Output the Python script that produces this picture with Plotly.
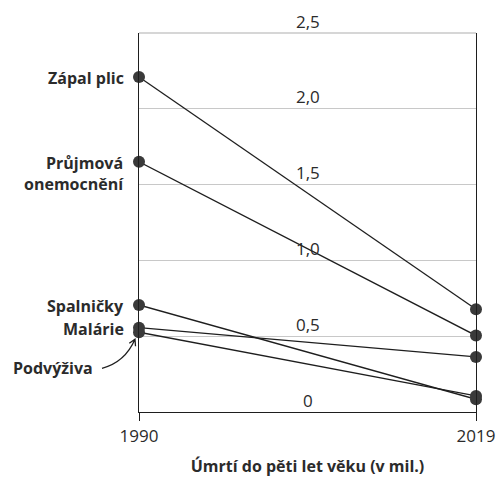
import plotly.graph_objects as go

years = [1990, 2019]
causes = ["Zápal plic", "Průjmová onemocnění", "Spalničky", "Malárie", "Podvýživa"]
deaths_1990 = [2.21, 1.65, 0.706, 0.556, 0.526]
deaths_2019 = [0.678, 0.504, 0.084, 0.363, 0.106]
y_ticks = [0, 0.5, 1.0, 1.5, 2.0, 2.5]
y_tick_labels = ["0", "0,5", "1,0", "1,5", "2,0", "2,5"]
x_title = "Úmrtí do pěti let věku (v mil.)"

FONT = "Open Sans"
TXT = "#2b2b2b"
Y_MAX = 2.5

fig = go.Figure()
for name, a, b in zip(causes, deaths_1990, deaths_2019):
    fig.add_trace(go.Scatter(
        x=years, y=[a, b], mode="lines+markers", name=name,
        line=dict(color="#1e1e1e", width=1.3),
        marker=dict(color="#3a3a3a", size=12),
        cliponaxis=False, showlegend=False, hoverinfo="skip"))

# value labels in middle of the chart
for v, t in zip(y_ticks, y_tick_labels):
    fig.add_annotation(x=0.5, xref="paper", y=v, yref="y", text=t,
                       showarrow=False, yanchor="middle", yshift=12,
                       font=dict(family=FONT, size=17, color=TXT))

# top grid line
fig.add_shape(type="line", xref="paper", yref="paper", x0=0, x1=1, y0=1, y1=1,
              line=dict(color="#c8c8c8", width=1.3), layer="below")

# category labels at 1990
label_text = {
    "Zápal plic": "<b>Zápal plic</b>",
    "Průjmová onemocnění": "<b>Průjmová</b><br><b>onemocnění</b>",
    "Spalničky": "<b>Spalničky</b>",
    "Malárie": "<b>Malárie</b>",
}
for name, v in zip(causes, deaths_1990):
    if name in label_text:
        multi = "<br>" in label_text[name]
        fig.add_annotation(x=1990, xref="x", y=v, yref="y", text=label_text[name],
                           showarrow=False, xanchor="right", align="right",
                           yanchor="top" if multi else "middle",
                           yshift=12 if multi else -1,
                           xshift=-13,
                           font=dict(family=FONT, size=16, color=TXT))

pod = deaths_1990[causes.index("Podvýživa")]
fig.add_annotation(x=1990, xref="x", y=pod, yref="y", text="<b>Podvýživa</b>",
                   showarrow=False, xanchor="right", yanchor="middle",
                   xshift=-44, yshift=-36,
                   font=dict(family=FONT, size=16, color=TXT))
# curved arrow
fig.add_shape(type="path", xref="paper", yref="paper",
              xsizemode="pixel", ysizemode="pixel",
              xanchor=0, yanchor=pod / Y_MAX,
              path="M -37,-36 Q -14,-30 -4,-7 M -9.7,-11 L -4,-7 L -3.5,-14",
              line=dict(color="#1e1e1e", width=1.3))

fig.update_xaxes(range=[1990, 2019], tickvals=years, ticktext=["1990", "2019"],
                 showgrid=False, zeroline=False, showline=True, linecolor="#1e1e1e",
                 linewidth=1.3, ticks="outside", ticklen=8, tickcolor="#1e1e1e",
                 tickfont=dict(family=FONT, size=17, color=TXT),
                 title=dict(text="<b>" + x_title + "</b>", standoff=17,
                            font=dict(family=FONT, size=16, color=TXT)))
fig.update_yaxes(range=[0, Y_MAX], tickvals=y_ticks, showticklabels=False,
                 showgrid=True, gridcolor="#c8c8c8", gridwidth=1.3,
                 zeroline=False, showline=True, mirror=True, linecolor="#1e1e1e",
                 linewidth=1.3, ticks="")

fig.update_layout(width=499, height=477,
                  margin=dict(l=139, r=23, t=33, b=65, autoexpand=False),
                  plot_bgcolor="white", paper_bgcolor="white",
                  font=dict(family=FONT, color=TXT))
fig.write_html("out.html", config={"displayModeBar": False},
               post_script="document.body.style.margin='0';"
                           "document.documentElement.style.overflow='hidden';")
